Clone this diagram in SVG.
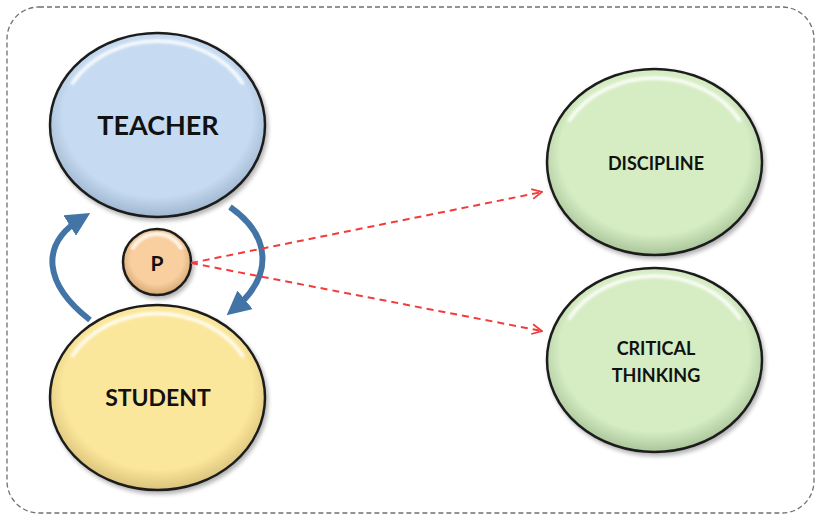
<svg xmlns="http://www.w3.org/2000/svg" width="818" height="517" viewBox="0 0 818 517">
  <defs>
    <radialGradient id="gBlue" cx="50%" cy="45%" r="55%">
      <stop offset="0.8" stop-color="#c6dbf1"/>
      <stop offset="1" stop-color="#9fb6cf"/>
    </radialGradient>
    <radialGradient id="gYellow" cx="50%" cy="45%" r="55%">
      <stop offset="0.8" stop-color="#fbe79c"/>
      <stop offset="1" stop-color="#d9c27a"/>
    </radialGradient>
    <radialGradient id="gGreen" cx="50%" cy="45%" r="55%">
      <stop offset="0.8" stop-color="#d6edc4"/>
      <stop offset="1" stop-color="#aac59a"/>
    </radialGradient>
    <radialGradient id="gPeach" cx="50%" cy="45%" r="55%">
      <stop offset="0.7" stop-color="#f9cf9f"/>
      <stop offset="1" stop-color="#d6a774"/>
    </radialGradient>
    <filter id="shadow" x="-10%" y="-10%" width="125%" height="125%">
      <feGaussianBlur in="SourceAlpha" stdDeviation="2"/>
      <feOffset dx="2" dy="3" result="b"/>
      <feComponentTransfer><feFuncA type="linear" slope="0.3"/></feComponentTransfer>
      <feMerge><feMergeNode/><feMergeNode in="SourceGraphic"/></feMerge>
    </filter>
    <filter id="soft"><feGaussianBlur stdDeviation="1.2"/></filter>
    <marker id="blueHead" viewBox="0 0 10 10" refX="6" refY="5" markerWidth="4" markerHeight="4" orient="auto" markerUnits="strokeWidth">
      <path d="M0,0 L10,5 L0,10 Z" fill="#4275a6"/>
    </marker>
    <marker id="redHead" viewBox="0 0 12 12" refX="11" refY="6" markerWidth="12" markerHeight="12" orient="auto" markerUnits="userSpaceOnUse">
      <path d="M1,1 L11,6 L1,11" fill="none" stroke="#f03c3c" stroke-width="1.8"/>
    </marker>
  </defs>
  <style>
    .node { stroke: #1e1e1e; stroke-width: 2.5; filter: url(#shadow); }
    .shine { fill: none; stroke: #ffffff; stroke-opacity: 0.8; stroke-width: 4; stroke-linecap: round; filter: url(#soft); }
    .label { font-family: "Lato", "Liberation Sans", sans-serif; font-weight: bold; fill: #111111; text-anchor: middle; }
    .cycle { fill: none; stroke: #4275a6; stroke-width: 6; stroke-linecap: butt; }
    .link { fill: none; stroke: #f03c3c; stroke-width: 2; stroke-dasharray: 7 5; }
  </style>

  <!-- frame -->
  <rect x="7" y="7" width="807" height="506" rx="32" ry="32" fill="#ffffff" stroke="#707070" stroke-width="1.3" stroke-dasharray="5 3"/>

  <g id="teacher">
    <ellipse class="node" cx="157.5" cy="125" rx="107.5" ry="92" fill="url(#gBlue)"/>
    <path class="shine" d="M 72.6 83 A 98 84 0 0 1 242.4 83"/>
    <text class="label" x="158" y="135" font-size="27">TEACHER</text>
  </g>

  <g id="student">
    <ellipse class="node" cx="157.5" cy="397.5" rx="107.5" ry="92.5" fill="url(#gYellow)"/>
    <path class="shine" d="M 72.6 355.5 A 98 84 0 0 1 242.4 355.5"/>
    <text class="label" x="158" y="406" font-size="23">STUDENT</text>
  </g>

  <g id="p">
    <ellipse class="node" cx="157" cy="262" rx="34" ry="33" fill="url(#gPeach)"/>
    <path class="shine" d="M 132.8 248 A 28 28 0 0 1 181.2 248" stroke-width="2.5"/>
    <text class="label" x="157" y="271" font-size="21">P</text>
  </g>

  <g id="discipline">
    <ellipse class="node" cx="654.5" cy="162" rx="107.5" ry="93" fill="url(#gGreen)"/>
    <path class="shine" d="M 569.6 120 A 98 84 0 0 1 739.4 120"/>
    <text class="label" x="656" y="170" font-size="18">DISCIPLINE</text>
  </g>

  <g id="critical-thinking">
    <ellipse class="node" cx="654.5" cy="360" rx="107.5" ry="92" fill="url(#gGreen)"/>
    <path class="shine" d="M 569.6 318 A 98 84 0 0 1 739.4 318"/>
    <text class="label" x="656" y="355" font-size="18">CRITICAL</text>
    <text class="label" x="656" y="382" font-size="18">THINKING</text>
  </g>

  <g id="connectors">
    <path class="cycle" d="M 90 320 C 45 285, 38 245, 82 218" marker-end="url(#blueHead)"/>
    <path class="cycle" d="M 230 207 C 270 235, 275 275, 234 309" marker-end="url(#blueHead)"/>
    <path class="link" d="M 191 263 L 542 192" marker-end="url(#redHead)"/>
    <path class="link" d="M 191 263 L 542 331" marker-end="url(#redHead)"/>
  </g>
</svg>
